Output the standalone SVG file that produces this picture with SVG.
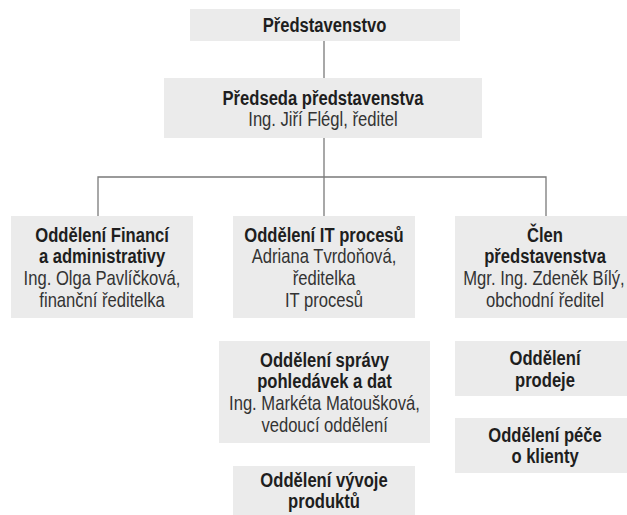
<svg xmlns="http://www.w3.org/2000/svg" width="627" height="515" viewBox="0 0 627 515">
<style>
.box{fill:#ebebeb}
text{font-family:"Liberation Sans Narrow","Liberation Sans",Arial,sans-serif;font-size:20.5px;fill:#1e1e1e;text-anchor:middle;transform-box:fill-box;transform-origin:center;transform:scaleX(0.81)}
.b{font-weight:bold}
.r{fill:#333}
.ln{stroke:#7a7a7a;stroke-width:1.3;fill:none}
</style>
<rect width="627" height="515" fill="#ffffff"/>
<g id="connectors">
<path class="ln" d="M324 41V78M324 138V216M98 216V177H546V216"/>
</g>
<g id="n-predstavenstvo">
<rect class="box" x="190" y="9" width="270" height="32"/>
<text class="b" x="324.5" y="32.3">Představenstvo</text>
</g>
<g id="n-predseda">
<rect class="box" x="164" y="78" width="318" height="60"/>
<text class="b" x="323" y="105">Předseda představenstva</text>
<text class="r" x="323" y="126">Ing. Jiří Flégl, ředitel</text>
</g>
<g id="n-financi">
<rect class="box" x="11" y="216" width="182" height="102"/>
<text class="b" x="102" y="241.7">Oddělení Financí</text>
<text class="b" x="102" y="263.3">a administrativy</text>
<text class="r" x="102" y="285">Ing. Olga Pavlíčková,</text>
<text class="r" x="102" y="306.7">finanční ředitelka</text>
</g>
<g id="n-it">
<rect class="box" x="233" y="216" width="182" height="102"/>
<text class="b" x="324" y="241.7">Oddělení IT procesů</text>
<text class="r" x="324" y="263.3">Adriana Tvrdoňová,</text>
<text class="r" x="324" y="285">ředitelka</text>
<text class="r" x="324" y="306.7">IT procesů</text>
</g>
<g id="n-clen">
<rect class="box" x="455" y="216" width="182" height="102"/>
<text class="b" x="545" y="241.7">Člen</text>
<text class="b" x="545" y="263.3">představenstva</text>
<text class="r" x="544" y="285">Mgr. Ing. Zdeněk Bílý,</text>
<text class="r" x="545" y="306.7">obchodní ředitel</text>
</g>
<g id="n-spravy">
<rect class="box" x="219" y="341" width="211" height="102"/>
<text class="b" x="324.5" y="366.7">Oddělení správy</text>
<text class="b" x="324.5" y="388.3">pohledávek a dat</text>
<text class="r" x="324.5" y="410">Ing. Markéta Matoušková,</text>
<text class="r" x="324.5" y="431.7">vedoucí oddělení</text>
</g>
<g id="n-vyvoje">
<rect class="box" x="233" y="466" width="182" height="56"/>
<text class="b" x="324" y="486.7">Oddělení vývoje</text>
<text class="b" x="324" y="508.3">produktů</text>
</g>
<g id="n-prodeje">
<rect class="box" x="455" y="341" width="182" height="55"/>
<text class="b" x="545" y="365">Oddělení</text>
<text class="b" x="545" y="386.7">prodeje</text>
</g>
<g id="n-pece">
<rect class="box" x="455" y="418" width="182" height="55"/>
<text class="b" x="545" y="441.7">Oddělení péče</text>
<text class="b" x="545" y="463.3">o klienty</text>
</g>
</svg>
